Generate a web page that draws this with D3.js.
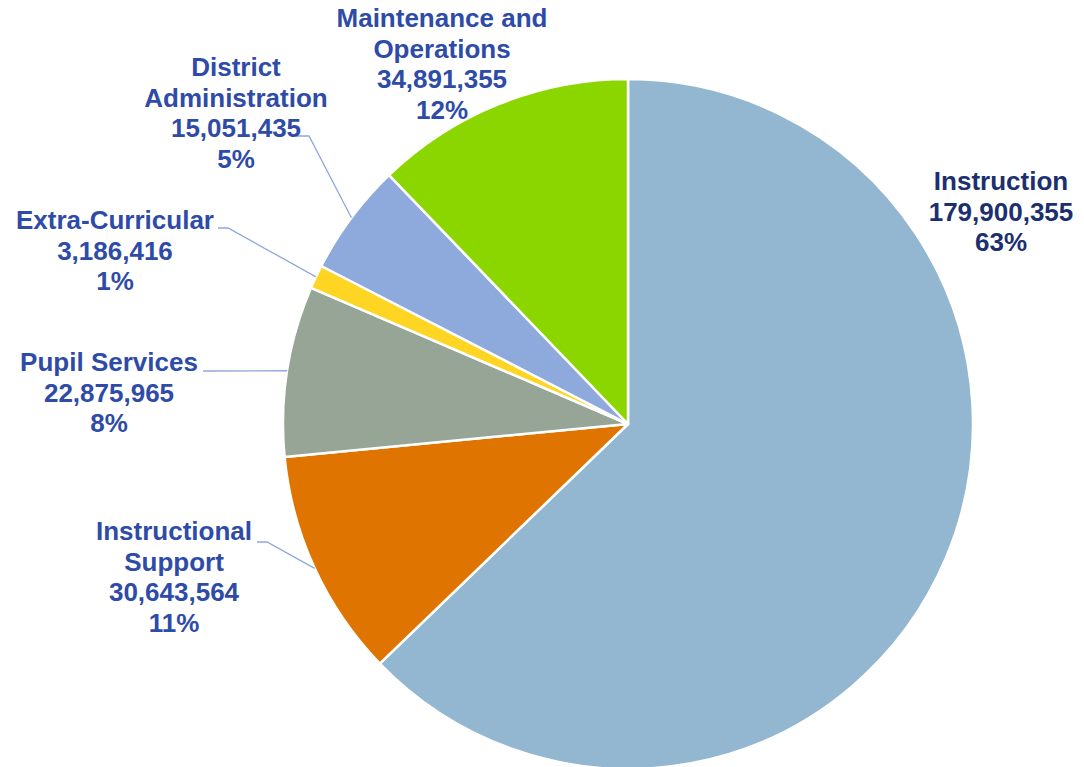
<!DOCTYPE html>
<html>
<head>
  <script src="https://cdn.jsdelivr.net/npm/d3@7"></script>
  <style>
    html, body { margin: 0; padding: 0; background: #fff; overflow: hidden; }
    svg { display: block; }
  </style>
</head>
<body>
<script>
// Data
const categories = ["Instruction", "Instructional Support", "Pupil Services", "Extra-Curricular", "District Administration", "Maintenance and Operations"];
const values = [179900355, 30643564, 22875965, 3186416, 15051435, 34891355];
const percentLabels = ["63%", "11%", "8%", "1%", "5%", "12%"];
const labelLines = [
  ["Instruction"],
  ["Instructional", "Support"],
  ["Pupil Services"],
  ["Extra-Curricular"],
  ["District", "Administration"],
  ["Maintenance and", "Operations"]
];
const colors = ["#93B6D1", "#DF7500", "#96A596", "#FFD523", "#8EA9DB", "#8CD600"];

// Layout
const WIDTH = 1084, HEIGHT = 767;
const CX = 628, CY = 424, R = 345;
const LINE_H = 30.5;
// label block centre x, first line centre y, and elbow point of leader (null = no leader)
const labelLayout = [
  { x: 1001, y: 181, elbow: null, color: "#1C2F6E" },
  { x: 174, y: 531, elbow: [[257, 542], [267, 542]] },
  { x: 109, y: 362, elbow: [[203, 371], [212, 371]] },
  { x: 115, y: 220, elbow: [[218, 228], [228, 228]] },
  { x: 236, y: 67, elbow: [[296, 136], [309, 136]] },
  { x: 442, y: 18, elbow: null }
];
const LABEL_COLOR = "#2E4BA8";

const svg = d3.select("body").append("svg")
  .attr("width", WIDTH)
  .attr("height", HEIGHT);

const data = categories.map((c, i) => ({ name: c, value: values[i], i }));

const pie = d3.pie().sort(null).value(d => d.value);
const arcs = pie(data);
const arc = d3.arc().innerRadius(0).outerRadius(R);

const g = svg.append("g").attr("transform", `translate(${CX},${CY})`);

g.selectAll("path")
  .data(arcs)
  .join("path")
  .attr("d", arc)
  .attr("fill", d => colors[d.data.i])
  .attr("stroke", "#fff")
  .attr("stroke-width", 2.5)
  .attr("stroke-linejoin", "round");

// leader lines
arcs.forEach(a => {
  const lay = labelLayout[a.data.i];
  if (!lay.elbow) return;
  const mid = (a.startAngle + a.endAngle) / 2;
  const px = CX + R * Math.sin(mid), py = CY - R * Math.cos(mid);
  const pts = [lay.elbow[0], lay.elbow[1], [px, py]];
  svg.append("path")
    .attr("d", d3.line()(pts))
    .attr("fill", "none")
    .attr("stroke", "#8EA9DB")
    .attr("stroke-width", 1.3);
});

// labels
const fmt = d3.format(",");
arcs.forEach(a => {
  const i = a.data.i;
  const lay = labelLayout[i];
  const lines = labelLines[i].concat([fmt(values[i]), percentLabels[i]]);
  const t = svg.append("text")
    .attr("text-anchor", "middle")
    .attr("font-family", "Liberation Sans, Arial, sans-serif")
    .attr("font-weight", "bold")
    .attr("font-size", 26)
    .attr("fill", lay.color || LABEL_COLOR);
  lines.forEach((l, k) => {
    t.append("tspan")
      .attr("x", lay.x)
      .attr("y", lay.y + k * LINE_H)
      .attr("dy", "0.35em")
      .text(l);
  });
});
</script>
</body>
</html>
